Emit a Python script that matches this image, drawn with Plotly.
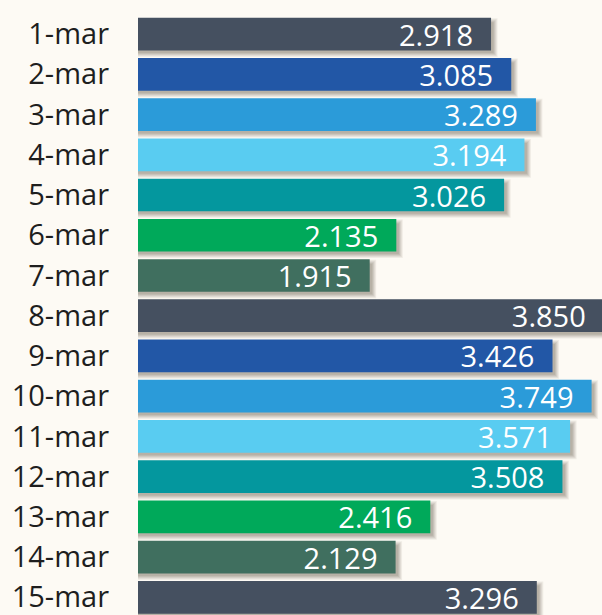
import plotly.graph_objects as go

categories = ["1-mar", "2-mar", "3-mar", "4-mar", "5-mar", "6-mar", "7-mar", "8-mar",
              "9-mar", "10-mar", "11-mar", "12-mar", "13-mar", "14-mar", "15-mar"]
values = [2918, 3085, 3289, 3194, 3026, 2135, 1915, 3850,
          3426, 3749, 3571, 3508, 2416, 2129, 3296]
palette = ["#455060", "#2257a6", "#2b9bd9", "#59ccf1", "#04979e", "#00a95a", "#406f5f"]
colors = [palette[i % len(palette)] for i in range(len(categories))]

BG = "#fdfaf4"
W, H = 602, 615
ML, MR, MT, MB = 138, 0, 14, 0
XMAX = 3835
YBOT = 14.44
pitch = (H - MT - MB) / (YBOT + 0.5)
px_x = XMAX / (W - ML - MR)      # data units per px (x)
px_y = 1 / pitch                  # category units per px (y)
bw = 32.7 / pitch
idx = list(range(len(categories)))

fig = go.Figure()

# soft drop shadow built from layered translucent bars
shadow_layers = [(3, 0.07), (2, 0.08), (1, 0.09), (0, 0.10), (-1, 0.10)]
dx, dy = 3.5, 3.5
for g, a in shadow_layers:
    fig.add_trace(go.Bar(
        y=idx, x=[v + (dx + g) * px_x for v in values], orientation="h",
        width=bw + 2 * g * px_y, offset=-bw / 2 + (dy - g) * px_y,
        marker=dict(color=f"rgba(70,55,40,{a})", line=dict(width=0)),
        hoverinfo="skip", showlegend=False,
    ))

fig.add_trace(go.Bar(
    y=idx, x=values, orientation="h",
    width=bw, offset=-bw / 2,
    marker=dict(color=colors, line=dict(width=0)),
    texttemplate="%{x:,d}\u00a0\u00a0",
    textposition="inside", insidetextanchor="end", constraintext="none",
    textfont=dict(family="Open Sans", size=29, color="white"),
    showlegend=False,
))

fig.update_layout(
    width=W, height=H, barmode="overlay",
    margin=dict(l=ML, r=MR, t=MT, b=MB, pad=0),
    paper_bgcolor=BG, plot_bgcolor=BG,
    separators=",.",
    font=dict(family="Open Sans", color="#1e1e1e"),
    xaxis=dict(range=[0, XMAX], visible=False, fixedrange=True),
    yaxis=dict(range=[YBOT, -0.5], tickmode="array", tickvals=idx, ticktext=categories,
               showgrid=False, zeroline=False, showline=False, ticks="",
               tickfont=dict(family="Open Sans", size=29, color="#1e1e1e"),
               ticklabelstandoff=28, ticklabeloverflow="allow", fixedrange=True),
)

fig.write_html(
    "out.html",
    config={"displayModeBar": False, "staticPlot": True},
    post_script="document.body.style.margin='0';document.body.style.overflow='hidden';"
                "document.body.style.background='" + BG + "';",
)
